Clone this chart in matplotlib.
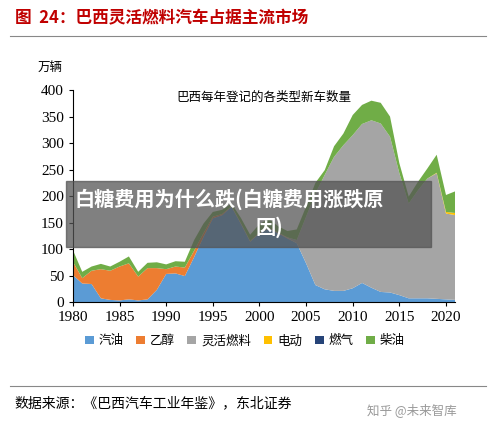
import numpy as np
import matplotlib.pyplot as plt
from matplotlib.patches import Rectangle

plt.rcParams['font.family'] = ['Noto Sans CJK SC', 'DejaVu Sans']

years = list(range(1980, 2022))
gasoline = [51, 35, 34, 7, 4, 3, 5, 3, 5, 23, 53, 54, 49, 85, 123, 158, 164, 180, 148, 114,
            130, 139, 130, 120, 111, 73, 32, 24, 21, 21, 26, 36, 27, 19, 18, 13, 7, 7, 7, 6, 5, 4]
ethanol = [25, 10, 25, 55, 55, 64, 68, 45, 59, 41, 9, 13, 16, 12, 7, 3, 2, 1, 1, 1,
           1, 1, 1, 1, 0, 0, 0, 0, 0, 0, 0, 0, 0, 0, 0, 0, 0, 0, 0, 0, 0, 0]
flex = [0] * 23 + [1, 6, 88, 173, 216, 253, 275, 289, 300, 316, 318, 294, 230, 179, 204, 226, 237, 162, 160]
electric = [0] * 39 + [1, 3, 4]
gas = [0] * 42
diesel = [22, 12, 8, 10, 8, 9, 13, 9, 10, 11, 9, 10, 11, 20, 18, 9, 8, 5, 10, 12,
          16, 17, 12, 12, 20, 19, 20, 9, 20, 22, 38, 36, 37, 39, 38, 19, 13, 16, 19, 34, 32, 41]

labels = ['汽油', '乙醇', '灵活燃料', '电动', '燃气', '柴油']
colors = ['#5B9BD5', '#ED7D31', '#A5A5A5', '#FFC000', '#264478', '#70AD47']

fig = plt.figure(figsize=(4.96, 4.29), dpi=100)
ax = fig.add_axes([0.147, 0.296, 0.771, 0.494])
ax.stackplot(years, gasoline, ethanol, flex, electric, gas, diesel, colors=colors, labels=labels)
ax.set_xlim(1980, 2021)
ax.set_ylim(0, 400)
ax.set_xticks(range(1980, 2021, 5))
ax.set_yticks(range(0, 401, 50))
for s in ['top', 'right']:
    ax.spines[s].set_visible(False)
ax.tick_params(labelsize=11, length=3)
for lab in ax.get_xticklabels() + ax.get_yticklabels():
    lab.set_family('Liberation Serif')
ax.text(0.5, 0.95, '巴西每年登记的各类型新车数量', transform=ax.transAxes, ha='center', fontsize=9)
fig.text(0.075, 0.835, '万辆', fontsize=9)
ax.legend(loc='upper center', bbox_to_anchor=(0.45, -0.1), ncol=6, frameon=False,
          fontsize=9, handlelength=0.7, handleheight=0.7, columnspacing=1.0, handletextpad=0.4)

# header and footer
fig.text(0.03, 0.945, '图  24：巴西灵活燃料汽车占据主流市场', fontsize=12, color='#C00000', weight='bold')
fig.add_artist(plt.Line2D([0.02, 0.98], [0.915, 0.915], color='#888888', lw=0.8))
fig.add_artist(plt.Line2D([0.02, 0.98], [0.1, 0.1], color='#888888', lw=0.8))
fig.text(0.03, 0.05, '数据来源：《巴西汽车工业年鉴》，东北证券', fontsize=10)
fig.text(0.74, 0.035, '知乎 @未来智库', fontsize=9, color='#999999')

# watermark banner
fig.add_artist(Rectangle((0.133, 0.425), 0.735, 0.152, transform=fig.transFigure,
                         color='#555555', alpha=0.75, zorder=10))
fig.text(0.15, 0.535, '白糖费用为什么跌(白糖费用涨跌原', fontsize=14.5, color='white',
         weight='bold', va='center', zorder=11)
fig.text(0.515, 0.47, '因)', fontsize=14.5, color='white', weight='bold', va='center', zorder=11)

fig.savefig('out.png', dpi=100)
